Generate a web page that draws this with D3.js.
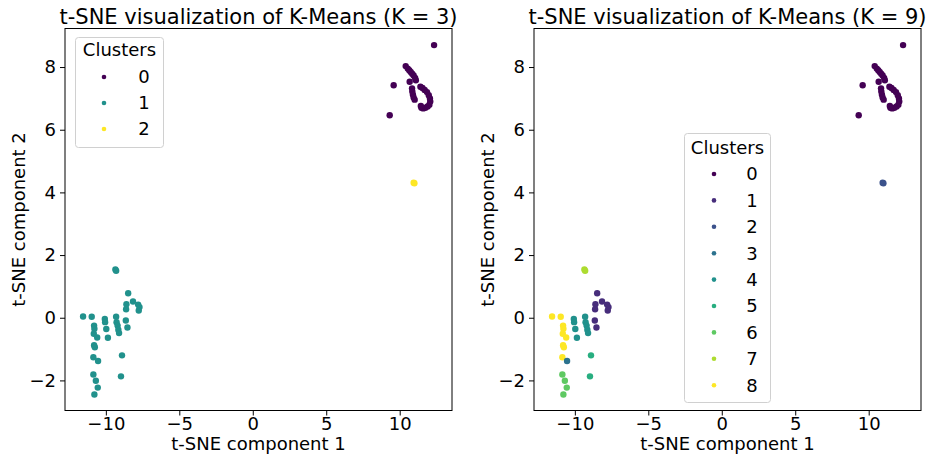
<!DOCTYPE html>
<html>
<head>
<meta charset="utf-8">
<script src="https://cdn.jsdelivr.net/npm/d3@7"></script>
<style>
body{margin:0;background:#fff;}
svg{display:block;font-family:"DejaVu Sans",sans-serif;}
</style>
</head>
<body>
<svg id="c" width="934" height="458"></svg>
<script>
// t-SNE coordinates (component 1)
const tsneX = [
  12.34, 10.41, 10.55, 10.65, 10.75, 10.85, 10.95, 11.05, 11.10,
  9.59, 10.68,
  10.84, 10.86, 10.90, 10.95, 11.02,
  11.41, 11.55, 11.70, 11.86, 11.98, 12.06, 12.08, 12.02, 11.90, 11.75, 11.60, 11.48, 11.44,
  9.32,
  10.95, 11.0,
  -9.35, -9.30,
  -8.48, -8.15, -8.60, -7.80, -7.71, -7.76, -8.62, -8.64, -8.53,
  -11.55, -10.96, -10.80, -10.78, -10.82, -10.59, -10.80, -10.75, -10.85,
  -10.53,
  -10.07, -10.05, -9.97, -9.86, -9.30, -9.27, -9.20, -9.15, -9.10,
  -8.90, -8.97,
  -10.85, -10.68, -10.55, -10.78
];
// t-SNE coordinates (component 2)
const tsneY = [
  8.70, 8.03, 7.95, 7.90, 7.84, 7.79, 7.73, 7.65, 7.58,
  7.42, 7.53,
  7.32, 7.22, 7.12, 7.03, 6.96,
  7.37, 7.33, 7.27, 7.20, 7.10, 7.00, 6.90, 6.80, 6.74, 6.70, 6.68, 6.70, 6.76,
  6.46,
  4.31, 4.29,
  1.54, 1.50,
  0.78, 0.52, 0.43, 0.42, 0.34, 0.23, 0.27, -0.09, -0.31,
  0.04, 0.03, -0.25, -0.35, -0.51, -0.63, -0.88, -0.94, -1.26,
  -1.38,
  -0.04, -0.14, -0.36, -0.64, 0.03, -0.14, -0.25, -0.38, -0.49,
  -1.20, -1.87,
  -1.81, -2.01, -2.23, -2.45
];
// cluster labels K = 3
const labelsK3 = [
  0,0,0,0,0,0,0,0,0, 0,0, 0,0,0,0,0, 0,0,0,0,0,0,0,0,0,0,0,0,0, 0,
  2,2,
  1,1, 1,1,1,1,1,1,1,1,1, 1,1,1,1,1,1,1,1,1, 1, 1,1,1,1,1,1,1,1,1, 1,1, 1,1,1,1
];
// cluster labels K = 9
const labelsK9 = [
  0,0,0,0,0,0,0,0,0, 0,0, 0,0,0,0,0, 0,0,0,0,0,0,0,0,0,0,0,0,0, 0,
  2,2,
  7,7, 1,1,1,1,1,1,1,1,1, 8,8,8,8,8,8,8,8,8, 3, 4,4,4,4,4,4,4,4,4, 5,5, 6,6,6,6
];
const xTicks = [-10, -5, 0, 5, 10];
const yTicks = [-2, 0, 2, 4, 6, 8];
const titles = ["t-SNE visualization of K-Means (K = 3)", "t-SNE visualization of K-Means (K = 9)"];
const xLabel = "t-SNE component 1";
const yLabel = "t-SNE component 2";
const legendTitle = "Clusters";

const svg = d3.select("#c");
const fmt = d3.format("");

const panels = [
  {left: 65, right: 452, labels: labelsK3, k: 3, title: titles[0],
   legend: {x: 75.5, y: 37.5, w: 88, h: 110, titleY: 56, first: 77, step: 26, mx: 104, lx: 144}},
  {left: 534, right: 921, labels: labelsK9, k: 9, title: titles[1],
   legend: {x: 684.5, y: 133.5, w: 86, h: 269, titleY: 154, first: 174, step: 26.4, mx: 714, lx: 752}}
];

const plotTop = 28.5, plotBottom = 410.5;

panels.forEach(p => {
  const x = d3.scaleLinear().domain([-12.78, 13.56]).range([p.left, p.right]);
  const y = d3.scaleLinear().domain([-2.96, 9.23]).range([plotBottom, plotTop]);
  const color = i => d3.interpolateViridis(p.k === 1 ? 0 : i / (p.k - 1));
  const g = svg.append("g");

  // points
  g.append("g").selectAll("circle").data(tsneX.map((v, i) => i)).join("circle")
    .attr("cx", i => x(tsneX[i]))
    .attr("cy", i => y(tsneY[i]))
    .attr("r", 3.2)
    .attr("fill", i => color(p.labels[i]));

  // axes
  const xAxis = g.append("g").attr("transform", `translate(0,${plotBottom})`)
    .call(d3.axisBottom(x).tickValues(xTicks).tickFormat(fmt).tickSizeOuter(0).tickSize(5).tickPadding(2));
  const yAxis = g.append("g").attr("transform", `translate(${p.left},0)`)
    .call(d3.axisLeft(y).tickValues(yTicks).tickFormat(fmt).tickSizeOuter(0).tickSize(5).tickPadding(4));
  [xAxis, yAxis].forEach(a => {
    a.select(".domain").remove();
    a.selectAll("text").attr("font-size", 18).attr("fill", "#000").attr("font-family", "DejaVu Sans");
    a.selectAll("line").attr("stroke", "#000").attr("stroke-width", 1);
  });

  // frame
  g.append("rect").attr("x", p.left).attr("y", plotTop).attr("width", p.right - p.left).attr("height", plotBottom - plotTop)
    .attr("fill", "none").attr("stroke", "#000").attr("stroke-width", 1);

  // labels
  g.append("text").attr("x", (p.left + p.right) / 2).attr("y", 450)
    .attr("text-anchor", "middle").attr("font-size", 18).text(xLabel);
  g.append("text").attr("transform", `translate(${p.left - 40},${(plotTop + plotBottom) / 2}) rotate(-90)`)
    .attr("text-anchor", "middle").attr("font-size", 18).text(yLabel);
  g.append("text").attr("x", (p.left + p.right) / 2).attr("y", 24)
    .attr("text-anchor", "middle").attr("font-size", 21).text(p.title);

  // legend
  const L = p.legend;
  const lg = g.append("g");
  lg.append("rect").attr("x", L.x).attr("y", L.y).attr("width", L.w).attr("height", L.h)
    .attr("rx", 3).attr("fill", "#fff").attr("fill-opacity", 0.8).attr("stroke", "#d0d0d0").attr("stroke-width", 1);
  lg.append("text").attr("x", L.x + L.w / 2).attr("y", L.titleY).attr("text-anchor", "middle")
    .attr("font-size", 18).text(legendTitle);
  const cats = d3.range(p.k);
  lg.selectAll("circle.leg").data(cats).join("circle").attr("class", "leg")
    .attr("cx", L.mx).attr("cy", c => L.first + c * L.step).attr("r", 2.3).attr("fill", c => color(c));
  lg.selectAll("text.leg").data(cats).join("text").attr("class", "leg")
    .attr("x", L.lx).attr("y", c => L.first + c * L.step).attr("dy", "0.35em")
    .attr("text-anchor", "middle").attr("font-size", 18).text(c => String(c));
});
</script>
</body>
</html>
